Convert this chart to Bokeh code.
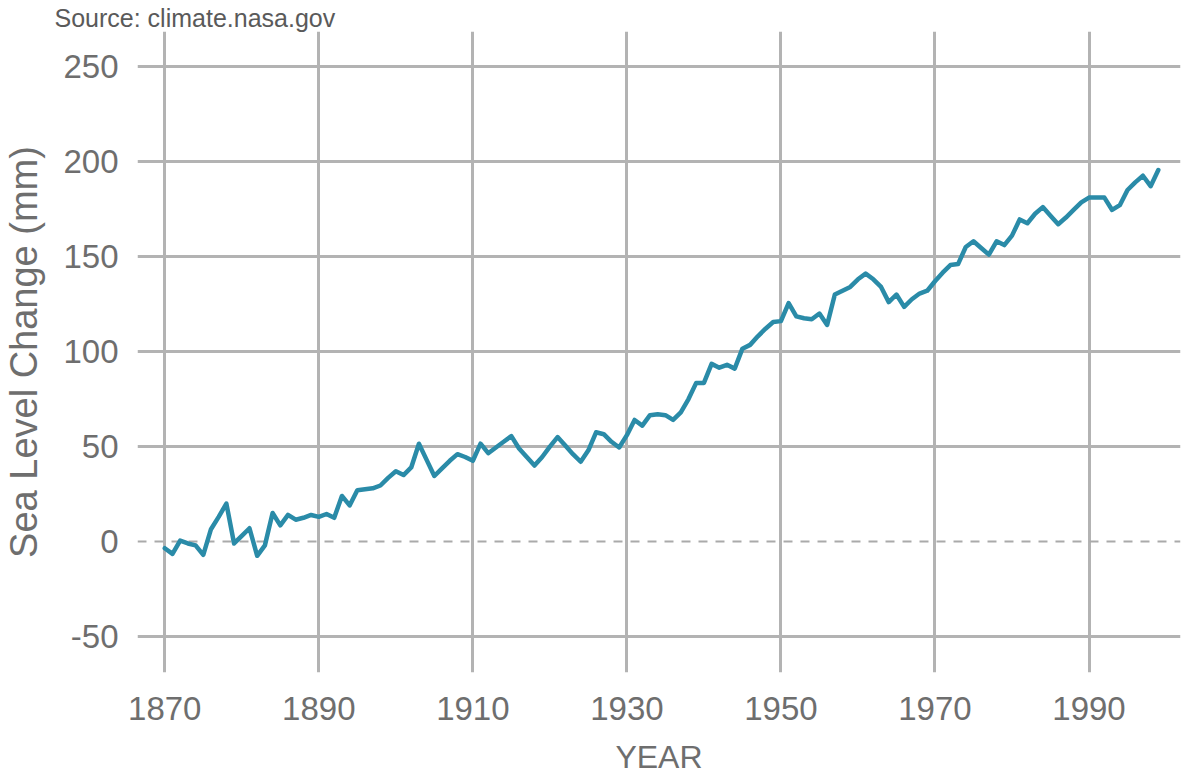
from bokeh.plotting import figure
from bokeh.models import Range1d, FixedTicker, Span, Title
from bokeh.embed import file_html
from bokeh.resources import INLINE

# ---- data ----
years = list(range(1870, 2000))
sea_level_mm = [
    -3.5, -6.5, 0.5, -1.0, -2.0, -7.0, 6.5, 13.0, 20.0, -1.0,      # 1870-1879
    3.0, 7.0, -7.5, -2.0, 15.0, 8.5, 14.0, 11.5, 12.5, 14.0,       # 1880-1889
    13.0, 14.5, 12.5, 24.0, 19.0, 27.0, 27.5, 28.0, 29.5, 33.5,    # 1890-1899
    37.0, 35.0, 39.0, 51.5, 43.0, 34.5, 38.5, 42.5, 46.0, 44.5,    # 1900-1909
    42.5, 51.5, 46.5, 49.5, 52.5, 55.5, 49.0, 44.5, 40.0, 44.5,    # 1910-1919
    50.0, 55.0, 50.5, 46.0, 42.0, 48.0, 57.5, 56.5, 52.5, 49.5,    # 1920-1929
    56.0, 64.0, 61.0, 66.5, 67.0, 66.5, 64.0, 68.0, 75.0, 83.5,    # 1930-1939
    83.5, 93.5, 91.5, 93.0, 91.0, 101.5, 103.5, 108.0, 112.0, 115.5,  # 1940-1949
    116.0, 125.5, 118.5, 117.5, 117.0, 120.0, 114.0, 130.0, 132.0, 134.0,  # 1950-1959
    138.0, 141.0, 138.0, 134.0, 126.0, 130.0, 123.5, 127.5, 130.5, 132.0,  # 1960-1969
    137.0, 141.5, 145.5, 146.0, 155.0, 158.0, 154.5, 151.0, 158.0, 156.0,  # 1970-1979
    161.0, 169.5, 167.5, 172.5, 176.0, 171.5, 167.0, 170.5, 174.5, 178.5,  # 1980-1989
    181.0, 181.0, 181.0, 174.5, 177.0, 185.0, 189.0, 192.5, 187.0, 195.5,  # 1990-1999
]
x_ticks = [1870, 1890, 1910, 1930, 1950, 1970, 1990]
y_ticks = [-50, 0, 50, 100, 150, 200, 250]
y_grid_ticks = [-50, 50, 100, 150, 200, 250]
source_text = "Source: climate.nasa.gov"

FONT = "Liberation Sans"
GRAY = "#6e6e6e"
GRID = "#b3b3b3"

p = figure(
    width=1186, height=777,
    output_backend="svg", toolbar_location=None, title=None,
    x_range=Range1d(1866.46, 2001.88), y_range=Range1d(-68.9, 268.4),
    min_border_left=137, min_border_right=6, min_border_top=31, min_border_bottom=105,
)
p.outline_line_color = None
p.background_fill_color = "white"
p.border_fill_color = "white"

p.xaxis.ticker = FixedTicker(ticks=x_ticks)
p.yaxis.ticker = FixedTicker(ticks=y_ticks)
p.xgrid.ticker = FixedTicker(ticks=x_ticks)
p.ygrid.ticker = FixedTicker(ticks=y_grid_ticks)
for g in (p.xgrid[0], p.ygrid[0]):
    g.grid_line_color = GRID
    g.grid_line_width = 3

for ax in (p.xaxis[0], p.yaxis[0]):
    ax.axis_line_color = None
    ax.major_tick_line_color = None
    ax.minor_tick_line_color = None
    ax.major_tick_out = 0
    ax.major_tick_in = 0
    ax.minor_tick_out = 0
    ax.major_label_text_font = FONT
    ax.major_label_text_font_size = "33px"
    ax.major_label_text_color = GRAY
    ax.axis_label_text_font = FONT
    ax.axis_label_text_font_style = "normal"
    ax.axis_label_text_color = GRAY

p.yaxis.major_label_overrides = {-50: "-50"}
p.xaxis.axis_label = "YEAR"
p.xaxis.axis_label_text_font_size = "32px"
p.xaxis.major_label_standoff = 24
p.xaxis.axis_label_standoff = 16
p.yaxis.axis_label = "Sea Level Change (mm)"
p.yaxis.axis_label_text_font_size = "38px"
p.yaxis.major_label_standoff = 19
p.yaxis.axis_label_standoff = 15

src = Title(text=source_text, align="left", offset=-83, standoff=0,
            text_font=FONT, text_font_size="25px", text_font_style="normal",
            text_color="#5a5a5a")
p.add_layout(src, "above")

zero = Span(location=0, dimension="width", line_color="#aaaaaa",
            line_width=2, line_dash="9 8", level="underlay")
p.add_layout(zero)

p.line(years, sea_level_mm, line_color="#2a8ba8", line_width=4.5,
       line_join="round", line_cap="round")

open("out.html", "w").write(file_html(p, INLINE))
